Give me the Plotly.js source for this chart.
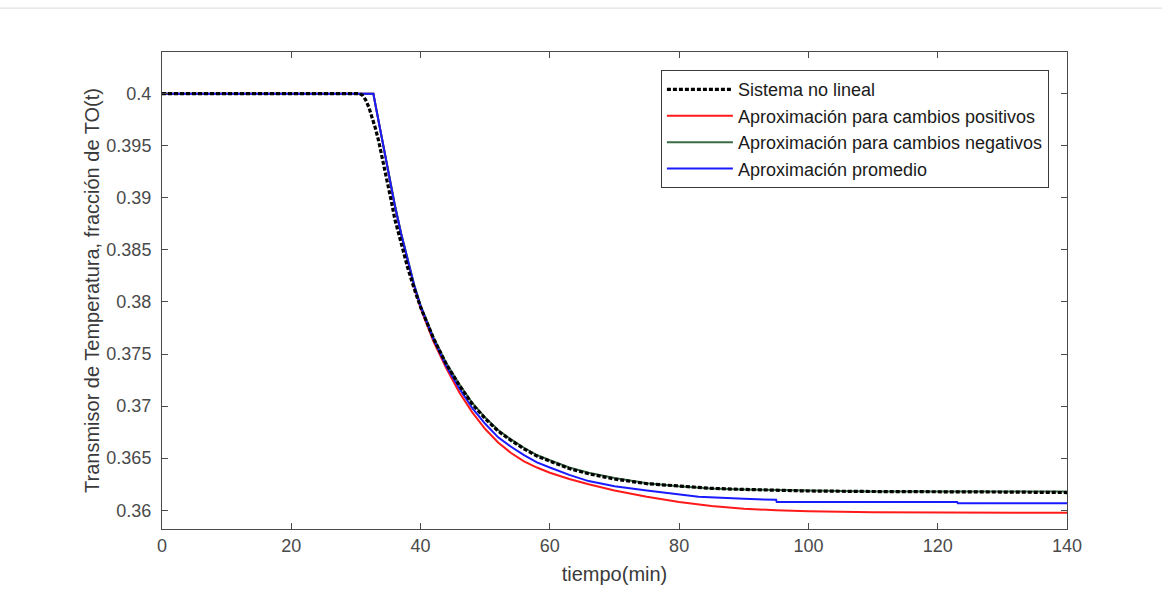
<!DOCTYPE html>
<html>
<head>
<meta charset="utf-8">
<script src="https://cdn.plot.ly/plotly-3.0.1.min.js"></script>
<style>html,body{margin:0;padding:0;background:#fff;}#chart{width:1162px;height:589px;}</style>
</head>
<body>
<div id="chart"></div>
<script>
// Sistema no lineal
const tNL = [0, 10, 20, 30, 30.6, 31, 31.5, 32, 32.5, 33, 33.5, 34, 34.5, 35, 35.5, 36, 37, 38, 39, 40, 42, 44, 46, 48, 50, 52, 54, 56, 58, 60, 63, 66, 70, 75, 80, 85, 90, 100, 110, 120, 130, 140];
const yNL = [0.4, 0.4, 0.4, 0.4, 0.4, 0.39985, 0.3994, 0.3987, 0.3978, 0.3967, 0.3955, 0.3941, 0.3926, 0.3911, 0.3896, 0.3880, 0.3855, 0.3833, 0.3813, 0.3795, 0.3765, 0.3740, 0.3720, 0.3702, 0.3688, 0.3676, 0.3667, 0.3659, 0.3652, 0.3647, 0.3640, 0.3635, 0.3630, 0.36255, 0.3623, 0.3621, 0.3620, 0.36185, 0.3618, 0.3618, 0.36175, 0.3617];

// Aproximación para cambios positivos
const tPos = [0, 10, 20, 30, 32.7, 33, 33.5, 34, 34.5, 35, 35.5, 36, 37, 38, 39, 40, 42, 44, 46, 48, 50, 52, 54, 56, 58, 60, 63, 66, 70, 75, 80, 85, 90, 95, 100, 110, 120, 130, 140];
const yPos = [0.4, 0.4, 0.4, 0.4, 0.4, 0.3990, 0.3974, 0.3958, 0.3942, 0.3926, 0.3910, 0.3893, 0.3865, 0.3839, 0.3815, 0.3794, 0.3762, 0.3736, 0.3713, 0.3694, 0.3678, 0.3665, 0.3655, 0.3647, 0.3641, 0.3636, 0.3630, 0.3625, 0.3619, 0.3613, 0.3608, 0.3604, 0.36015, 0.3600, 0.3599, 0.35982, 0.35978, 0.35976, 0.35975];

// Aproximación para cambios negativos
const tNeg = [0, 10, 20, 30, 32.7, 33, 33.5, 34, 34.5, 35, 35.5, 36, 37, 38, 39, 40, 42, 44, 46, 48, 50, 52, 54, 56, 58, 60, 63, 66, 70, 75, 80, 85, 90, 100, 110, 120, 130, 140];
const yNeg = [0.4, 0.4, 0.4, 0.4, 0.4, 0.3990, 0.3974, 0.3958, 0.3942, 0.3926, 0.3910, 0.3894, 0.3866, 0.3840, 0.3817, 0.3797, 0.3766, 0.3741, 0.3721, 0.3703, 0.3689, 0.3677, 0.3668, 0.3660, 0.3653, 0.3648, 0.3641, 0.3636, 0.3631, 0.3626, 0.3623, 0.3621, 0.3620, 0.3619, 0.3618, 0.3618, 0.3618, 0.3618];

// Aproximación promedio
const tProm = [0, 10, 20, 30, 32.7, 33, 33.5, 34, 34.5, 35, 35.5, 36, 37, 38, 39, 40, 42, 44, 46, 48, 50, 52, 54, 56, 58, 60, 63, 66, 70, 75, 80, 83, 90, 95, 95.1, 110, 123, 123.1, 130, 140];
const yProm = [0.4, 0.4, 0.4, 0.4, 0.4, 0.3990, 0.3974, 0.3958, 0.3942, 0.3926, 0.3910, 0.3893, 0.3865, 0.3839, 0.3816, 0.3796, 0.3764, 0.3738, 0.3717, 0.3698, 0.3683, 0.3670, 0.3661, 0.3653, 0.3646, 0.3641, 0.3634, 0.3628, 0.3623, 0.3619, 0.3615, 0.3613, 0.3611, 0.3610, 0.3608, 0.3608, 0.3608, 0.36067, 0.36067, 0.36067];

const xTicks = [0, 20, 40, 60, 80, 100, 120, 140];
const xTickText = ['0', '20', '40', '60', '80', '100', '120', '140'];
const yTicks = [0.36, 0.365, 0.37, 0.375, 0.38, 0.385, 0.39, 0.395, 0.4];
const yTickText = ['0.36', '0.365', '0.37', '0.375', '0.38', '0.385', '0.39', '0.395', '0.4'];

const names = ['Sistema no lineal', 'Aproximación para cambios positivos', 'Aproximación para cambios negativos', 'Aproximación promedio'];

const traces = [
  {x: tPos, y: yPos, name: names[1], mode: 'lines', legendrank: 2, line: {color: '#ff1a1a', width: 2}},
  {x: tNeg, y: yNeg, name: names[2], mode: 'lines', legendrank: 3, line: {color: '#3b6b45', width: 2}},
  {x: tProm, y: yProm, name: names[3], mode: 'lines', legendrank: 4, line: {color: '#1a1aff', width: 2}},
  {x: tNL, y: yNL, name: names[0], mode: 'lines', legendrank: 1, line: {color: '#000000', width: 3.2, dash: '4px,2px'}}
];

const fontFam = 'Liberation Sans, Arial, sans-serif';
const layout = {
  width: 1162, height: 589,
  paper_bgcolor: '#ffffff', plot_bgcolor: '#ffffff',
  margin: {l: 162, r: 95, t: 52, b: 60, pad: 0},
  showlegend: true,
  legend: {
    x: 0.98, y: 0.962, xanchor: 'right', yanchor: 'top',
    bgcolor: '#ffffff', bordercolor: '#3a3a3a', borderwidth: 1,
    font: {family: fontFam, size: 18, color: '#1a1a1a'},
    traceorder: 'normal', itemwidth: 66
  },
  xaxis: {
    range: [0, 140], tickvals: xTicks, ticktext: xTickText,
    showgrid: false, zeroline: false, showline: true, mirror: 'ticks',
    linecolor: '#4a4a4a', linewidth: 1, ticks: 'inside', ticklen: 6, tickcolor: '#4a4a4a',
    tickfont: {family: fontFam, size: 18, color: '#4a4a4a'},
    title: {text: 'tiempo(min)', font: {family: fontFam, size: 20, color: '#3a3a3a'}, standoff: 12}
  },
  yaxis: {
    range: [0.3582, 0.404], tickvals: yTicks, ticktext: yTickText,
    showgrid: false, zeroline: false, showline: true, mirror: 'ticks',
    linecolor: '#4a4a4a', linewidth: 1, ticks: 'inside', ticklen: 6, tickcolor: '#4a4a4a',
    ticklabelstandoff: 6,
    tickfont: {family: fontFam, size: 18, color: '#4a4a4a'},
    title: {text: 'Transmisor de Temperatura, fracción de TO(t)', font: {family: fontFam, size: 20, color: '#3a3a3a'}, standoff: 1}
  },
  shapes: [
    {type: 'line', xref: 'paper', yref: 'paper', x0: -0.2, x1: 1.11, y0: 1.092, y1: 1.092, line: {color: '#dcdcdc', width: 1}}
  ]
};

Plotly.newPlot('chart', traces, layout, {displayModeBar: false, staticPlot: true});
</script>
</body>
</html>
